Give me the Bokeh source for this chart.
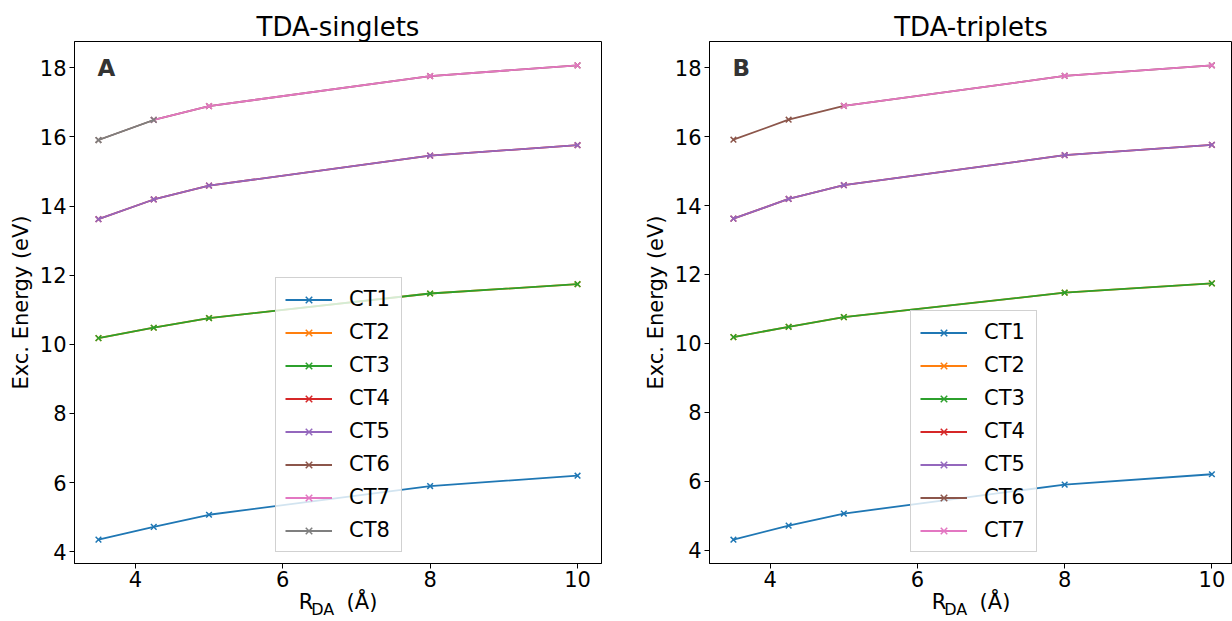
from bokeh.plotting import figure
from bokeh.models import Range1d, Label, Legend, LegendItem, LinearAxis, FixedTicker
from bokeh.layouts import row
from bokeh.embed import file_html
from bokeh.resources import INLINE

nan = float("nan")

# distances R_DA (Angstrom)
r_da = [3.5, 4.25, 5.0, 8.0, 10.0]

# TDA singlets (eV)
sing_ct1 = [4.35, 4.72, 5.07, 5.90, 6.20]
sing_ct2 = [10.18, 10.48, 10.76, 11.47, 11.74]
sing_ct3 = [10.18, 10.48, 10.76, 11.47, 11.74]
sing_ct4 = [13.62, 14.19, 14.59, 15.46, 15.76]
sing_ct5 = [13.62, 14.19, 14.59, 15.46, 15.76]
sing_ct6 = [15.91, 16.49, 16.89, 17.76, 18.07]
sing_ct7 = [nan, 16.49, 16.89, 17.76, 18.07]
sing_ct8 = [15.91, 16.49, nan, nan, nan]

# TDA triplets (eV)
trip_ct1 = [4.30, 4.71, 5.06, 5.90, 6.20]
trip_ct2 = [10.18, 10.48, 10.76, 11.47, 11.74]
trip_ct3 = [10.18, 10.48, 10.76, 11.47, 11.74]
trip_ct4 = [13.62, 14.19, 14.59, 15.46, 15.76]
trip_ct5 = [13.62, 14.19, 14.59, 15.46, 15.76]
trip_ct6 = [15.91, 16.49, 16.89, 17.76, 18.07]
trip_ct7 = [nan, nan, 16.89, 17.76, 18.07]

sing_names = ["CT1", "CT2", "CT3", "CT4", "CT5", "CT6", "CT7", "CT8"]
trip_names = ["CT1", "CT2", "CT3", "CT4", "CT5", "CT6", "CT7"]
sing_series = [sing_ct1, sing_ct2, sing_ct3, sing_ct4, sing_ct5, sing_ct6, sing_ct7, sing_ct8]
trip_series = [trip_ct1, trip_ct2, trip_ct3, trip_ct4, trip_ct5, trip_ct6, trip_ct7]

x_ticks = [4, 6, 8, 10]
y_ticks = [4, 6, 8, 10, 12, 14, 16, 18]

colors = ["#1f77b4", "#ff7f0e", "#2ca02c", "#d62728",
          "#9467bd", "#8c564b", "#e377c2", "#7f7f7f"]

FONT = "DejaVu Sans"
NB = "\u00a0"
H = 621
MB_TOP = 41
MB_BOTTOM = 57
FRAME_H = H - MB_TOP - MB_BOTTOM


def make_panel(names, series, title, letter, width, mbl, mbr, x_end, y_start):
    p = figure(width=width, height=H, title=title,
               x_range=Range1d(3.175, x_end), y_range=Range1d(y_start, 18.76),
               output_backend="svg", toolbar_location=None,
               min_border_left=mbl, min_border_right=mbr,
               min_border_top=MB_TOP, min_border_bottom=MB_BOTTOM)
    p.title.text_font = FONT
    p.title.text_font_size = "26px"
    p.title.text_font_style = "normal"
    p.title.text_color = "black"
    p.title.align = "center"
    p.title.standoff = 0
    p.grid.visible = False
    p.outline_line_color = "black"
    p.outline_line_width = 1
    p.outline_line_alpha = 1
    p.background_fill_color = "white"
    p.border_fill_color = "white"

    for ax in (p.xaxis, p.yaxis):
        ax.major_label_text_font = FONT
        ax.major_label_text_font_size = "21px"
        ax.major_label_text_color = "black"
        ax.major_tick_in = 0
        ax.major_tick_out = 5
        ax.minor_tick_line_color = None
        ax.axis_line_color = "black"
        ax.major_tick_line_color = "black"
        ax.major_label_standoff = 3
    p.xaxis.major_label_standoff = 2
    p.xaxis.ticker = x_ticks
    p.yaxis.ticker = y_ticks

    p.yaxis.axis_label = "Exc. Energy (eV)"
    p.yaxis.axis_label_text_font = FONT
    p.yaxis.axis_label_text_font_size = "21px"
    p.yaxis.axis_label_text_font_style = "normal"
    p.yaxis.axis_label_text_color = "black"
    p.yaxis.axis_label_standoff = 4

    # x axis label "R_DA (Å)": main part on the axis, subscript on a bare axis below
    p.xaxis.axis_label = "R" + NB * 5 + "(Å)"
    p.xaxis.axis_label_text_font = FONT
    p.xaxis.axis_label_text_font_size = "21px"
    p.xaxis.axis_label_text_font_style = "normal"
    p.xaxis.axis_label_text_color = "black"
    p.xaxis.axis_label_standoff = 0

    sub = LinearAxis(ticker=FixedTicker(ticks=[]), axis_line_color=None,
                     major_tick_line_color=None, minor_tick_line_color=None,
                     major_tick_out=0, major_tick_in=0,
                     axis_label="DA" + NB * 6, axis_label_text_font=FONT,
                     axis_label_text_font_size="16px",
                     axis_label_text_font_style="normal",
                     axis_label_text_color="black",
                     axis_label_standoff=-17)
    p.add_layout(sub, "below")

    items = []
    for name, ys, col in zip(names, series, colors):
        ln = p.line(r_da, ys, line_color=col, line_width=1.8)
        sc = p.scatter(r_da, ys, marker="x", size=8, line_color=col, line_width=1.5)
        items.append(LegendItem(label=name, renderers=[ln, sc]))

    leg = Legend(items=items, location=(201, 11), margin=0,
                 label_text_font=FONT, label_text_font_size="21px",
                 label_text_color="black",
                 glyph_width=47, glyph_height=23, label_height=23,
                 label_width=43, label_standoff=17, spacing=9, padding=9,
                 border_line_color="#cccccc", border_line_width=1,
                 border_line_alpha=0.9,
                 background_fill_color="white", background_fill_alpha=0.8)
    p.add_layout(leg, "center")

    # panel letter
    p.add_layout(Label(x=23, y=FRAME_H - 27, x_units="screen", y_units="screen",
                       text=letter, text_font=FONT, text_font_size="23px",
                       text_font_style="bold", text_color="#333333",
                       text_baseline="alphabetic"))
    return p


p1 = make_panel(sing_names, sing_series, "TDA-singlets", "A",
                width=638, mbl=74, mbr=37, x_end=10.325, y_start=3.66)
p2 = make_panel(trip_names, trip_series, "TDA-triplets", "B",
                width=594, mbl=71, mbr=0, x_end=10.28, y_start=3.61)

layout = row(p1, p2)
open("out.html", "w").write(file_html(layout, INLINE))
